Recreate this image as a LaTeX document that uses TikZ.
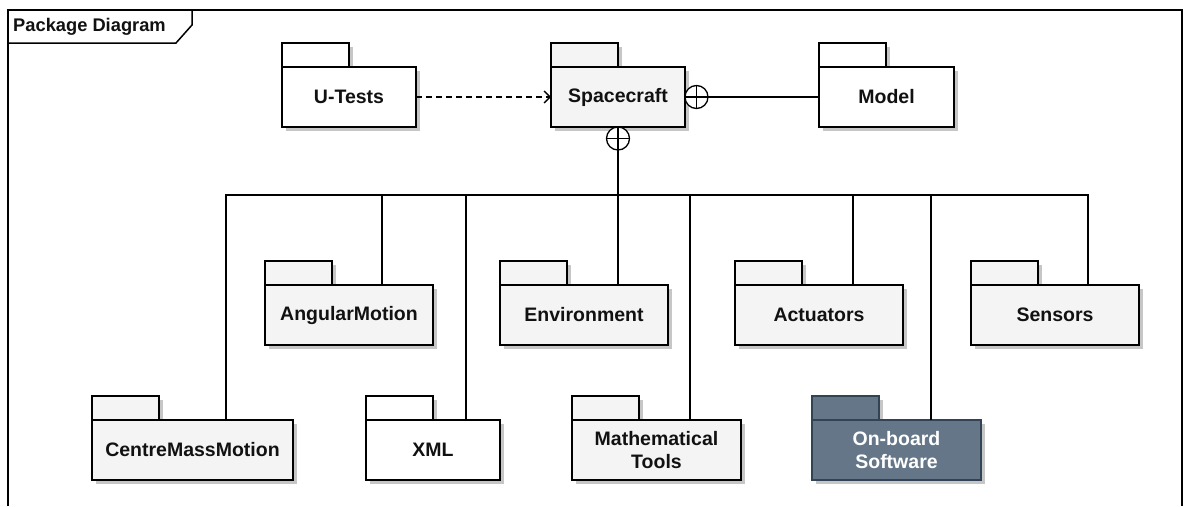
\documentclass[tikz,border=0pt]{standalone}
\usepackage{fontspec}
\setmainfont{Liberation Sans}
\usetikzlibrary{shadows,arrows.meta,calc}
\definecolor{pkgfill}{HTML}{F4F4F4}
\definecolor{obfill}{HTML}{647687}
\definecolor{obline}{HTML}{314354}
\definecolor{shadowc}{HTML}{C6C6C6}
\definecolor{txt}{HTML}{111111}
\tikzset{
  pkgbase/.style={draw=black, line width=1.3pt, inner sep=2pt, outer sep=0pt,
    drop shadow={shadow xshift=3.5pt, shadow yshift=-3.5pt, fill=shadowc, opacity=1}},
  pkgbody/.style={pkgbase, anchor=north west, minimum height=60pt, align=center,
    font=\fontsize{19.5}{23}\selectfont\bfseries, text=txt},
  pkgtab/.style={pkgbase, anchor=south west, minimum width=67pt, minimum height=24pt},
  greyfill/.style={fill=pkgfill},
  plainfill/.style={fill=white},
  darkfill/.style={fill=obfill, draw=obline, text=white},
  conn/.style={line width=1.7pt, black},
  plus/.style={circle, draw, line width=1.3pt, minimum size=23pt, inner sep=0pt, outer sep=0pt, fill=white,
    path picture={\draw[line width=1.3pt]
      (path picture bounding box.north) -- (path picture bounding box.south)
      (path picture bounding box.west) -- (path picture bounding box.east);}},
}
\newcommand\pkgnode[6]{%
  \node[pkgtab,#5] (#1-tab) at (#2,#3) {};
  \node[pkgbody,#5,minimum width=#4pt] (#1) at (#2,#3) {#6};
}
\begin{document}
\begin{tikzpicture}[x=1pt,y=-1pt]
\useasboundingbox (0,0) rectangle (1186,506);
% frame
\draw[line width=1.5pt] (8,506) -- (8,10) -- (1182,10) -- (1182,506);
\draw[line width=1.5pt, fill=white] (8,10) -- (192,10) -- (192,25) -- (176,43) -- (8,43) -- cycle;
\node[anchor=west, inner sep=0pt, font=\fontsize{18.3}{22}\selectfont\bfseries, text=txt] (title) at (13,27) {Package Diagram};

% top row
\pkgnode{ut}{282}{67}{134}{plainfill}{U-Tests}
\pkgnode{sc}{551}{67}{134}{greyfill}{Spacecraft}
\pkgnode{model}{819}{67}{135}{plainfill}{Model}

% second row
\pkgnode{am}{265}{285}{168}{greyfill}{AngularMotion}
\pkgnode{env}{500}{285}{168}{greyfill}{Environment}
\pkgnode{act}{735}{285}{168}{greyfill}{Actuators}
\pkgnode{sen}{971}{285}{168}{greyfill}{Sensors}

% third row
\pkgnode{cmm}{92}{420}{201}{greyfill}{CentreMassMotion}
\pkgnode{xml}{366}{420}{134}{plainfill}{XML}
\pkgnode{mt}{572}{420}{169}{greyfill}{Mathematical\\Tools}
\pkgnode{ob}{812}{420}{169}{darkfill}{On-board\\Software}

% containment symbols
\node[plus, anchor=west] (scr) at (sc.east) {};
\node[plus, anchor=north] (scb) at (sc.south) {};
\coordinate (bus) at (scb.south |- 0,195);

% connectors
\draw[line width=1.4pt, dash pattern=on 6pt off 4pt, -{Straight Barb[length=6pt,width=12pt]}] (ut.east) -- (sc.west);
\draw[conn] (scr.east) -- (scr.east -| model.west);
\draw[conn] (scb.south) -- (bus);
\draw[conn] ($(cmm.north west)+(134,0)$) |- (bus);
\draw[conn] ($(am.north west)+(117,0)$) |- (bus);
\draw[conn] ($(xml.north west)+(100,0)$) |- (bus);
\draw[conn] ($(env.north west)+(118,0)$) |- (bus);
\draw[conn] ($(mt.north west)+(118,0)$) |- (bus);
\draw[conn] ($(act.north west)+(118,0)$) |- (bus);
\draw[conn] ($(ob.north west)+(119,0)$) |- (bus);
\draw[conn] ($(sen.north west)+(117,0)$) |- (bus);
\end{tikzpicture}
\end{document}
